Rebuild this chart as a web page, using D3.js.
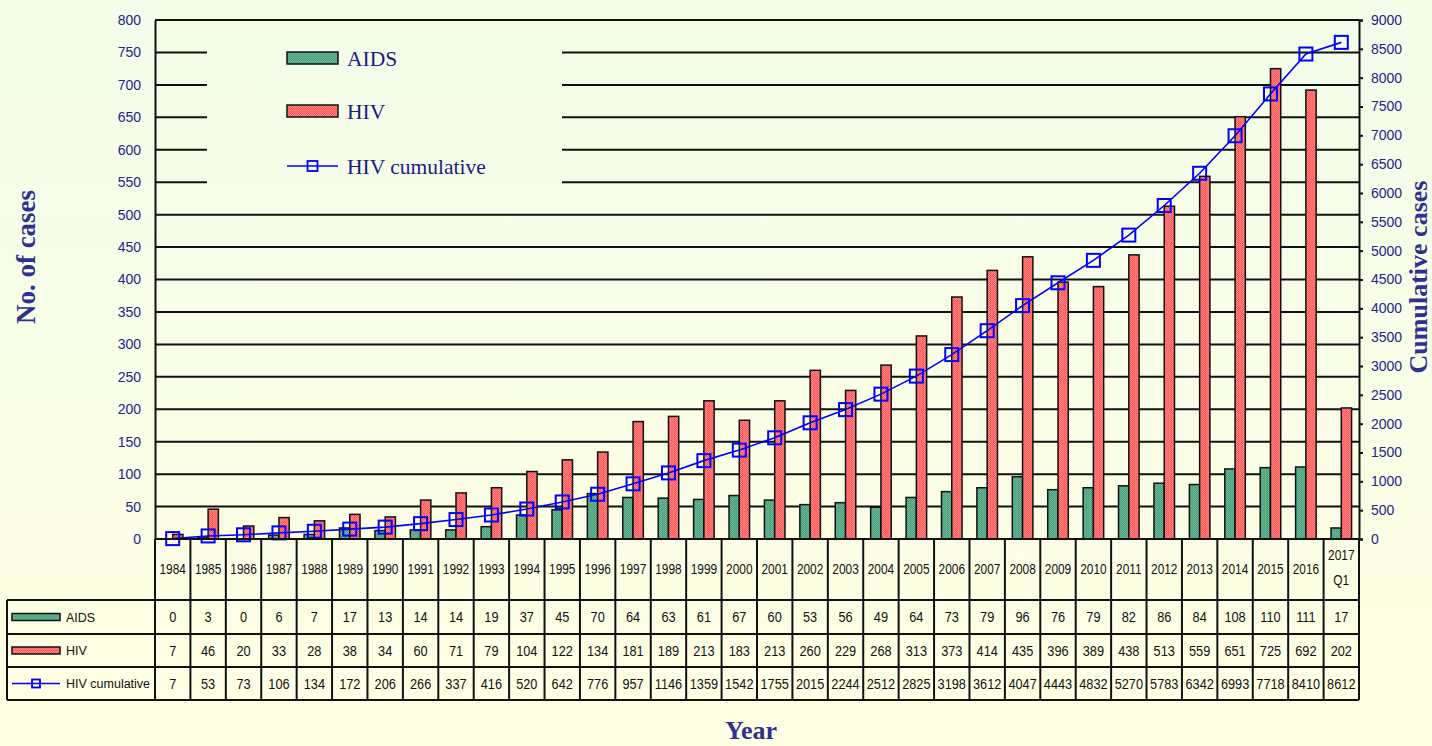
<!DOCTYPE html>
<html>
<head>
<meta charset="utf-8">
<script src="https://cdn.jsdelivr.net/npm/d3@7"></script>
<style>
  body { margin: 0; background: #fbfee6; }
  svg { display: block; }
</style>
</head>
<body>
<div class="canvas"></div>
<script>
const years = ["1984","1985","1986","1987","1988","1989","1990","1991","1992","1993","1994","1995","1996","1997","1998","1999","2000","2001","2002","2003","2004","2005","2006","2007","2008","2009","2010","2011","2012","2013","2014","2015","2016","2017 Q1"];
const aids = [0,3,0,6,7,17,13,14,14,19,37,45,70,64,63,61,67,60,53,56,49,64,73,79,96,76,79,82,86,84,108,110,111,17];
const hiv = [7,46,20,33,28,38,34,60,71,79,104,122,134,181,189,213,183,213,260,229,268,313,373,414,435,396,389,438,513,559,651,725,692,202];
const hivCum = [7,53,73,106,134,172,206,266,337,416,520,642,776,957,1146,1359,1542,1755,2015,2244,2512,2825,3198,3612,4047,4443,4832,5270,5783,6342,6993,7718,8410,8612];
const seriesNames = ["AIDS", "HIV", "HIV cumulative"];

const W = 1432, H = 746;
const plot = { left: 155, right: 1359, top: 20, bottom: 539 };
const rowY = [539, 600, 634, 667, 700]; // table row borders
const navy = "#23238e";

const svg = d3.select(".canvas").append("svg").attr("width", W).attr("height", H);
const defs = svg.append("defs");

const bg = defs.append("linearGradient").attr("id", "bg")
  .attr("gradientUnits", "userSpaceOnUse")
  .attr("x1", 0).attr("y1", 0).attr("x2", 0).attr("y2", H);
bg.append("stop").attr("offset", "0%").attr("stop-color", "#f3fdea");
bg.append("stop").attr("offset", "100%").attr("stop-color", "#ffffe3");

// dithered fills
const mkPattern = (id, a, b) => {
  const p = defs.append("pattern").attr("id", id)
    .attr("patternUnits", "userSpaceOnUse").attr("width", 2).attr("height", 2);
  p.append("rect").attr("width", 2).attr("height", 2).attr("fill", a);
  p.append("rect").attr("width", 1).attr("height", 1).attr("fill", b);
  p.append("rect").attr("x", 1).attr("y", 1).attr("width", 1).attr("height", 1).attr("fill", b);
};
mkPattern("pGreen", "#4a9f7c", "#6bb794");
mkPattern("pRed", "#ff5656", "#ff8585");

svg.append("rect").attr("width", W).attr("height", H).attr("fill", "url(#bg)");

const x = d3.scaleBand().domain(years).range([plot.left, plot.right]);
const yL = d3.scaleLinear().domain([0, 800]).range([plot.bottom, plot.top]);
const yR = d3.scaleLinear().domain([0, 9000]).range([plot.bottom, plot.top]);

// gridlines
svg.append("g").selectAll("line").data(yL.ticks(16))
  .join("line")
  .attr("x1", plot.left).attr("x2", plot.right)
  .attr("y1", d => yL(d)).attr("y2", d => yL(d))
  .attr("stroke", "#111").attr("stroke-width", 2);

// legend box covers the gridlines
const lg = svg.append("g");
lg.append("rect").attr("x", 207).attr("y", 38).attr("width", 355).attr("height", 158).attr("fill", "url(#bg)");

// bars
const bw = x.bandwidth() * 0.29;
const bars = svg.append("g");
bars.selectAll(".aids").data(aids).join("rect")
  .attr("x", (d, i) => x(years[i]) + x.bandwidth() / 2 - bw)
  .attr("y", d => yL(d)).attr("width", bw).attr("height", d => yL(0) - yL(d))
  .attr("fill", "url(#pGreen)").attr("stroke", "#111").attr("stroke-width", 1.5);
bars.selectAll(".hiv").data(hiv).join("rect")
  .attr("x", (d, i) => x(years[i]) + x.bandwidth() / 2)
  .attr("y", d => yL(d)).attr("width", bw).attr("height", d => yL(0) - yL(d))
  .attr("fill", "url(#pRed)").attr("stroke", "#111").attr("stroke-width", 1.5);

// cumulative line
const cx = (d, i) => x(years[i]) + x.bandwidth() / 2;
const line = d3.line().x(cx).y(d => yR(d));
svg.append("path").datum(hivCum).attr("d", line)
  .attr("fill", "none").attr("stroke", "#0000ff").attr("stroke-width", 1.6);
svg.append("g").selectAll("rect").data(hivCum).join("rect")
  .attr("x", (d, i) => cx(d, i) - 6.5).attr("y", d => yR(d) - 6.5)
  .attr("width", 13).attr("height", 13)
  .attr("fill", "none").attr("stroke", "#0000ff").attr("stroke-width", 2);

// axes
const axL = svg.append("g").attr("transform", `translate(${plot.left},0)`)
  .call(d3.axisLeft(yL).ticks(16).tickSize(0).tickPadding(14));
axL.select(".domain").attr("stroke", "#111").attr("stroke-width", 2);
const axR = svg.append("g").attr("transform", `translate(${plot.right},0)`)
  .call(d3.axisRight(yR).ticks(18).tickFormat(d3.format("d")).tickSize(4).tickPadding(8));
axR.select(".domain").attr("stroke", "#111").attr("stroke-width", 2);
axR.selectAll(".tick line").attr("stroke", "#111").attr("stroke-width", 2);
svg.selectAll(".tick text")
  .attr("font-family", "Liberation Sans, Arial, sans-serif")
  .attr("font-size", 14).attr("fill", navy);

// axis titles
const titleFont = "Liberation Serif, Times New Roman, serif";
svg.append("text").attr("transform", "translate(35,257) rotate(-90)")
  .attr("text-anchor", "middle").attr("font-family", titleFont).attr("font-weight", "bold")
  .attr("font-size", 27).attr("fill", "#2e3192").text("No. of cases");
svg.append("text").attr("transform", "translate(1427,277) rotate(-90)")
  .attr("text-anchor", "middle").attr("font-family", titleFont).attr("font-weight", "bold")
  .attr("font-size", 26).attr("fill", "#2e3192").text("Cumulative cases");
svg.append("text").attr("x", 751).attr("y", 739)
  .attr("text-anchor", "middle").attr("font-family", titleFont).attr("font-weight", "bold")
  .attr("font-size", 26).attr("fill", "#2e3192").text("Year");

// legend inside plot
const swatch = (g, kind, x0, y0, w, h, mk) => {
  if (kind === 2) {
    g.append("line").attr("x1", x0).attr("x2", x0 + w).attr("y1", y0).attr("y2", y0)
      .attr("stroke", "#0000ff").attr("stroke-width", 1.6);
    g.append("rect").attr("x", x0 + w / 2 - mk / 2).attr("y", y0 - mk / 2)
      .attr("width", mk).attr("height", mk).attr("fill", "none")
      .attr("stroke", "#0000ff").attr("stroke-width", 1.8);
  } else {
    g.append("rect").attr("x", x0).attr("y", y0 - h / 2).attr("width", w).attr("height", h)
      .attr("fill", kind === 0 ? "url(#pGreen)" : "url(#pRed)")
      .attr("stroke", "#111").attr("stroke-width", 1.5);
  }
};
[58, 111, 166].forEach((yy, k) => {
  swatch(lg, k, 287, yy, 51, 12, 10);
  lg.append("text").attr("x", 347).attr("y", yy).attr("dy", "0.35em")
    .attr("font-family", titleFont).attr("font-size", 21.5).attr("fill", "#1a1a80")
    .text(seriesNames[k]);
});

// data table
const tbl = svg.append("g");
const tFont = "Liberation Sans, Arial, sans-serif";
const hline = (x1, x2, yy) => tbl.append("line").attr("x1", x1).attr("x2", x2)
  .attr("y1", yy).attr("y2", yy).attr("stroke", "#111").attr("stroke-width", 2);
hline(plot.left, plot.right, rowY[0]);
hline(7, plot.right, rowY[1]);
hline(7, plot.right, rowY[2]);
hline(7, plot.right, rowY[3]);
hline(7, plot.right, rowY[4]);
tbl.append("line").attr("x1", 7).attr("x2", 7).attr("y1", rowY[1]).attr("y2", rowY[4])
  .attr("stroke", "#111").attr("stroke-width", 2);
tbl.selectAll(".vl").data(years.concat(["end"])).join("line")
  .attr("x1", (d, i) => i < years.length ? x(d) : plot.right)
  .attr("x2", (d, i) => i < years.length ? x(d) : plot.right)
  .attr("y1", rowY[0]).attr("y2", rowY[4])
  .attr("stroke", "#111").attr("stroke-width", 2);

// year headers (condensed)
tbl.selectAll(".yr").data(years).join("text")
  .attr("transform", d => `translate(${x(d) + x.bandwidth() / 2},0) scale(0.82,1)`)
  .attr("text-anchor", "middle")
  .attr("font-family", tFont).attr("font-size", 14.5).attr("fill", "#111")
  .each(function (d) {
    const parts = d.split(" ");
    const t = d3.select(this);
    parts.forEach((p, j) => {
      t.append("tspan").attr("x", 0)
        .attr("y", parts.length === 1 ? 574 : 560 + j * 25).text(p);
    });
  });

// rows
[aids, hiv, hivCum].forEach((vals, r) => {
  const yy = (rowY[r + 1] + rowY[r + 2]) / 2;
  tbl.selectAll(".r" + r).data(vals).join("text")
    .attr("transform", (d, i) => `translate(${x(years[i]) + x.bandwidth() / 2},${yy}) scale(0.88,1)`)
    .attr("dy", "0.36em")
    .attr("text-anchor", "middle").attr("font-family", tFont).attr("font-size", 14.5)
    .attr("fill", "#111").text(d => d);
  swatch(tbl, r, 12, yy, 48, 7, 8);
  tbl.append("text").attr("x", 66).attr("y", yy).attr("dy", "0.36em")
    .attr("font-family", tFont).attr("font-size", 12.5)
    .attr("fill", "#111").text(seriesNames[r]);
});
</script>
</body>
</html>
